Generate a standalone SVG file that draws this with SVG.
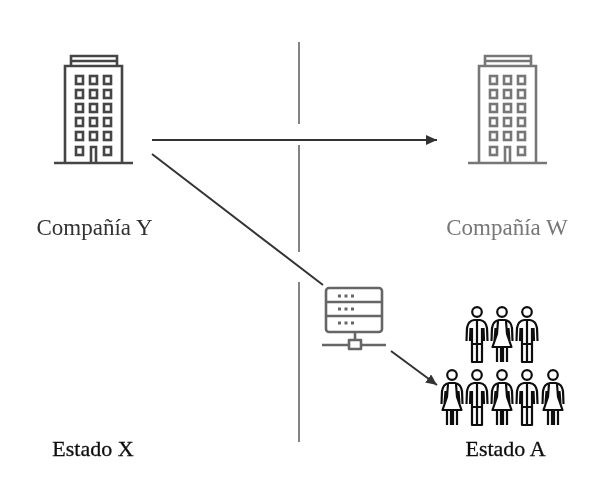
<svg xmlns="http://www.w3.org/2000/svg" xmlns:xlink="http://www.w3.org/1999/xlink" width="600" height="496" viewBox="0 0 600 496">
<style>
.lbl{font-family:"Liberation Serif","Times New Roman",serif;font-size:22px;text-anchor:middle}
.co{font-size:23px}
.ic{fill:none;stroke-linejoin:round}
.conn{fill:none;stroke:#333;stroke-width:2}
</style>
<defs>
<filter id="soft" x="-10%" y="-10%" width="120%" height="120%"><feGaussianBlur stdDeviation="0.5"/></filter>
<marker id="ah" markerUnits="userSpaceOnUse" markerWidth="12" markerHeight="12" refX="11" refY="5" orient="auto"><path d="M0 0L11 5L0 10Z" fill="#333"/></marker>
<g id="bld">
<path d="M0 108H79M11 108V11H68V108M17 11V1H63V11M17 6H63M37 108V92H42V108" />
<g id="wins">
<rect x="22" y="21" width="7" height="8"/><rect x="36" y="21" width="7" height="8"/><rect x="50" y="21" width="7" height="8"/>
<rect x="22" y="35" width="7" height="8"/><rect x="36" y="35" width="7" height="8"/><rect x="50" y="35" width="7" height="8"/>
<rect x="22" y="49" width="7" height="8"/><rect x="36" y="49" width="7" height="8"/><rect x="50" y="49" width="7" height="8"/>
<rect x="22" y="63" width="7" height="8"/><rect x="36" y="63" width="7" height="8"/><rect x="50" y="63" width="7" height="8"/>
<rect x="22" y="77" width="7" height="8"/><rect x="36" y="77" width="7" height="8"/><rect x="50" y="77" width="7" height="8"/>
<rect x="22" y="92" width="7" height="8"/><rect x="50" y="92" width="7" height="8"/>
</g>
</g>
<g id="man" class="ic" stroke="#111" stroke-width="2.2">
<circle cx="0" cy="6" r="4.8"/>
<path d="M-10.500 35L-10 22Q-9 15 -3 14H3Q9 15 10 22L10.500 35M-6.500 22L-7 35M6.500 22L7 35M-5 22V56H5V22M0 15V56M-5 38H5"/>
</g>
<g id="woman" class="ic" stroke="#111" stroke-width="2.2">
<circle cx="0" cy="6" r="4.8"/>
<path d="M-10.500 35L-10 22Q-9 15 -3 14H3Q9 15 10 22L10.500 35M-6.500 22L-7.500 35M6.500 22L7.500 35M-4 15L-5 28L-9.500 41H9.500L5 28L4 15M-5 41V56M-1 41V56M1 41V56M5 41V56"/>
</g>
</defs>

<g id="connectors">
<path class="conn" style="stroke:#666;stroke-width:1.6" d="M299 42V124M299 145V252M299 282V442"/>
<path class="conn" d="M152 140H437" marker-end="url(#ah)"/>
<path class="conn" d="M152 154L323 285"/>
<path class="conn" stroke-width="2.4" d="M391 351L437 385" marker-end="url(#ah)"/>
</g>

<g id="company-y">
<use xlink:href="#bld" href="#bld" x="54" y="55" fill="none" stroke="#444" stroke-width="2.6" filter="url(#soft)"/>
<text class="lbl co" x="94.500" y="235" fill="#333" filter="url(#soft)">Compañía Y</text>
</g>

<g id="company-w">
<use xlink:href="#bld" href="#bld" x="468" y="55" fill="none" stroke="#777" stroke-width="2.6" filter="url(#soft)"/>
<text class="lbl co" x="507" y="235" fill="#777" filter="url(#soft)">Compañía W</text>
</g>

<g id="server" class="ic" stroke="#666" stroke-width="2.6" filter="url(#soft)">
<rect x="326" y="288" width="56" height="44" rx="3"/>
<path d="M326 302H382M326 316H382M355 332V340M322 345H349M361 345H386"/>
<rect x="349" y="340" width="12" height="9"/>
<path stroke-width="3" stroke-dasharray="3 3.500" d="M338 296H354M338 309H354M338 323H354"/>
</g>

<g id="people" filter="url(#soft)">
<use xlink:href="#man" href="#man" x="477" y="306"/>
<use xlink:href="#woman" href="#woman" x="502" y="306"/>
<use xlink:href="#man" href="#man" x="527" y="306"/>
<use xlink:href="#woman" href="#woman" x="452" y="369"/>
<use xlink:href="#man" href="#man" x="477" y="369"/>
<use xlink:href="#woman" href="#woman" x="502" y="369"/>
<use xlink:href="#man" href="#man" x="527" y="369"/>
<use xlink:href="#woman" href="#woman" x="553" y="369"/>
</g>

<g id="estado-x"><text class="lbl" x="93" y="456" fill="#111" stroke="#111" stroke-width="0.3" filter="url(#soft)">Estado X</text></g>
<g id="estado-a"><text class="lbl" x="505.500" y="456" fill="#111" stroke="#111" stroke-width="0.3" filter="url(#soft)">Estado A</text></g>
</svg>
